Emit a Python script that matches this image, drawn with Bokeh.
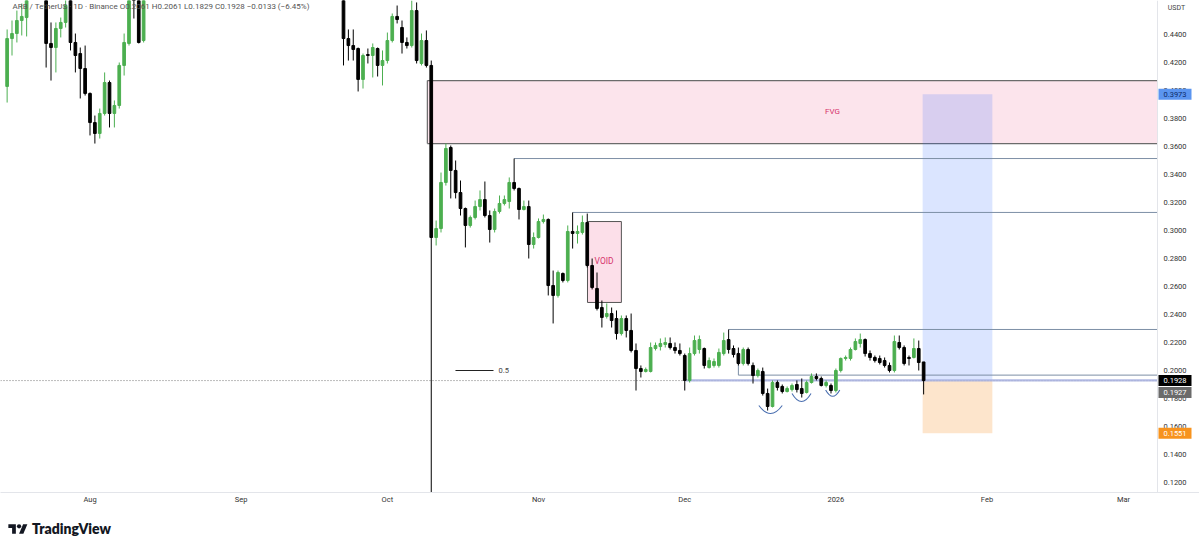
import pandas as pd
from bokeh.plotting import figure
from bokeh.models import Range1d, FixedTicker, Label, Div, ColumnDataSource
from bokeh.layouts import column
from bokeh.embed import file_html
from bokeh.resources import INLINE
from bokeh.core.properties import value

# ---------------- data (ARB / TetherUS, 1D, Binance) ----------------
dates = (list(pd.date_range("2025-07-15", "2025-07-19"))
         + list(pd.date_range("2025-07-23", "2025-08-12"))
         + list(pd.date_range("2025-09-22", "2026-01-19")))

opens = [
    0.4029, 0.4371, 0.4407, 0.4500, 0.4521,
    0.4714, 0.4336, 0.4307, 0.4443, 0.4486, 0.4714, 0.4343, 0.4264, 0.4157, 0.3979,
    0.3771, 0.3693, 0.3836, 0.4057, 0.3836, 0.3893, 0.4179, 0.4336, 0.4786, 0.4750, 0.4357,
    # Sep 22 ->
    0.4714, 0.4371, 0.4321, 0.4300, 0.4079, 0.4257, 0.4250, 0.4300, 0.4179, 0.4214,
    0.4357, 0.4529, 0.4450, 0.4343, 0.4321, 0.4571, 0.4193, 0.4357, 0.4179, 0.2950,
    0.3014, 0.3343, 0.3593, 0.3429, 0.3271, 0.3157, 0.3036, 0.3093, 0.3171, 0.3221,
    0.3107, 0.3007, 0.3136, 0.3193, 0.3207, 0.3343, 0.3300, 0.3150, 0.3171, 0.2900,
    0.2950, 0.3064, 0.3079, 0.2607, 0.2536, 0.2693, 0.2643, 0.2993, 0.2979, 0.2986,
    0.3057, 0.2750, 0.2586, 0.2450, 0.2386, 0.2407, 0.2371, 0.2264, 0.2371, 0.2286,
    0.2143, 0.2014, 0.1993, 0.1993, 0.2157, 0.2171, 0.2186, 0.2193, 0.2164, 0.2143,
    0.2107, 0.1929, 0.2121, 0.2150, 0.2157, 0.2021, 0.2036, 0.2036, 0.2121, 0.2221,
    0.2157, 0.2121, 0.2050, 0.2150, 0.2036, 0.1964, 0.1993, 0.1836, 0.1743, 0.1914,
    0.1886, 0.1850, 0.1864, 0.1900, 0.1871, 0.1843, 0.1914, 0.1957, 0.1943, 0.1893,
    0.1893, 0.1857, 0.2000, 0.2086, 0.2086, 0.2150, 0.2193, 0.2221, 0.2121, 0.2093,
    0.2086, 0.2071, 0.2036, 0.2000, 0.2200, 0.2164, 0.2093, 0.2093, 0.2157, 0.2061,
]
highs = [
    0.4436, 0.4500, 0.4571, 0.4621, 0.4750,
    0.4750, 0.4486, 0.4486, 0.4521, 0.4679, 0.4750, 0.4407, 0.4307, 0.4321, 0.3986,
    0.3821, 0.3871, 0.4129, 0.4071, 0.3929, 0.4200, 0.4407, 0.4750, 0.4857, 0.4786, 0.4786,
    0.4750, 0.4436, 0.4436, 0.4307, 0.4264, 0.4300, 0.4336, 0.4307, 0.4286, 0.4414,
    0.4550, 0.4607, 0.4500, 0.4379, 0.4643, 0.4629, 0.4407, 0.4429, 0.4214, 0.3071,
    0.3414, 0.3621, 0.3607, 0.3500, 0.3357, 0.3164, 0.3107, 0.3214, 0.3286, 0.3350,
    0.3143, 0.3157, 0.3250, 0.3250, 0.3379, 0.3514, 0.3307, 0.3214, 0.3214, 0.2986,
    0.3086, 0.3114, 0.3086, 0.2714, 0.2714, 0.2700, 0.3036, 0.3129, 0.3036, 0.3107,
    0.3121, 0.2800, 0.2700, 0.2500, 0.2479, 0.2450, 0.2429, 0.2393, 0.2393, 0.2407,
    0.2193, 0.2036, 0.2021, 0.2200, 0.2200, 0.2229, 0.2236, 0.2236, 0.2200, 0.2193,
    0.2121, 0.2164, 0.2250, 0.2250, 0.2164, 0.2093, 0.2086, 0.2157, 0.2271, 0.2293,
    0.2179, 0.2164, 0.2164, 0.2164, 0.2057, 0.2014, 0.2021, 0.1871, 0.1929, 0.1929,
    0.1900, 0.1886, 0.1907, 0.1929, 0.1943, 0.1929, 0.1979, 0.1979, 0.1957, 0.1929,
    0.1907, 0.2014, 0.2093, 0.2107, 0.2164, 0.2229, 0.2264, 0.2229, 0.2143, 0.2107,
    0.2107, 0.2093, 0.2057, 0.2250, 0.2250, 0.2179, 0.2107, 0.2229, 0.2214, 0.2061,
]
lows = [
    0.3914, 0.4250, 0.4343, 0.4393, 0.4386,
    0.4164, 0.4071, 0.4129, 0.4379, 0.4450, 0.4286, 0.4129, 0.3943, 0.3964, 0.3679,
    0.3621, 0.3657, 0.3821, 0.3736, 0.3736, 0.3871, 0.4107, 0.4321, 0.4514, 0.4336, 0.4343,
    0.4179, 0.4214, 0.4214, 0.3993, 0.4014, 0.4193, 0.4093, 0.4100, 0.4036, 0.4193,
    0.4343, 0.4479, 0.4264, 0.4300, 0.4307, 0.4193, 0.4179, 0.4164, 0.1000, 0.2893,
    0.2986, 0.3321, 0.3229, 0.3229, 0.3107, 0.2879, 0.3021, 0.3079, 0.3143, 0.3093,
    0.2914, 0.2986, 0.3121, 0.3179, 0.3157, 0.3286, 0.3079, 0.3143, 0.2800, 0.2871,
    0.2943, 0.3050, 0.2536, 0.2336, 0.2521, 0.2629, 0.2629, 0.2871, 0.2907, 0.2971,
    0.2736, 0.2579, 0.2429, 0.2307, 0.2371, 0.2307, 0.2221, 0.2250, 0.2236, 0.2129,
    0.1857, 0.1950, 0.1986, 0.1986, 0.2143, 0.2143, 0.2164, 0.2150, 0.2121, 0.2107,
    0.1857, 0.1914, 0.2107, 0.2121, 0.2014, 0.2014, 0.2021, 0.2021, 0.2107, 0.2121,
    0.2093, 0.2036, 0.2036, 0.2036, 0.1907, 0.1950, 0.1821, 0.1714, 0.1736, 0.1857,
    0.1836, 0.1843, 0.1850, 0.1843, 0.1807, 0.1836, 0.1907, 0.1929, 0.1886, 0.1879,
    0.1836, 0.1843, 0.1986, 0.2071, 0.2071, 0.2143, 0.2164, 0.2100, 0.2071, 0.2057,
    0.2043, 0.2021, 0.1986, 0.1986, 0.2150, 0.2036, 0.2036, 0.2086, 0.2000, 0.1829,
]
closes = [
    0.4371, 0.4407, 0.4500, 0.4529, 0.4714,
    0.4336, 0.4307, 0.4443, 0.4486, 0.4607, 0.4343, 0.4250, 0.4157, 0.3979, 0.3771,
    0.3693, 0.3836, 0.4057, 0.3836, 0.3893, 0.4179, 0.4343, 0.4714, 0.4679, 0.4343, 0.4750,
    0.4371, 0.4321, 0.4293, 0.4079, 0.4250, 0.4250, 0.4307, 0.4179, 0.4214, 0.4357,
    0.4529, 0.4507, 0.4343, 0.4321, 0.4571, 0.4214, 0.4357, 0.4179, 0.2950, 0.3014,
    0.3343, 0.3586, 0.3429, 0.3271, 0.3157, 0.3036, 0.3093, 0.3171, 0.3221, 0.3107,
    0.3007, 0.3136, 0.3193, 0.3221, 0.3343, 0.3300, 0.3150, 0.3171, 0.2900, 0.2950,
    0.3064, 0.3079, 0.2607, 0.2536, 0.2700, 0.2643, 0.2993, 0.2979, 0.2993, 0.3057,
    0.2750, 0.2593, 0.2443, 0.2379, 0.2407, 0.2357, 0.2264, 0.2371, 0.2286, 0.2143,
    0.2014, 0.1993, 0.2007, 0.2164, 0.2179, 0.2193, 0.2200, 0.2164, 0.2143, 0.2121,
    0.1929, 0.2121, 0.2214, 0.2221, 0.2036, 0.2071, 0.2064, 0.2129, 0.2214, 0.2150,
    0.2114, 0.2050, 0.2150, 0.2050, 0.1964, 0.2000, 0.1836, 0.1743, 0.1914, 0.1879,
    0.1850, 0.1871, 0.1893, 0.1864, 0.1836, 0.1914, 0.1957, 0.1943, 0.1893, 0.1914,
    0.1857, 0.2000, 0.2086, 0.2093, 0.2150, 0.2207, 0.2221, 0.2121, 0.2093, 0.2071,
    0.2057, 0.2036, 0.2000, 0.2207, 0.2164, 0.2050, 0.2086, 0.2157, 0.2057, 0.1928,
]

month_ticks = ["2025-08-01", "2025-09-01", "2025-10-01", "2025-11-01",
               "2025-12-01", "2026-01-01", "2026-02-01", "2026-03-01"]
month_labels = ["Aug", "Sep", "Oct", "Nov", "Dec", "2026", "Feb", "Mar"]
price_ticks = [0.12, 0.14, 0.16, 0.18, 0.20, 0.22, 0.24, 0.26, 0.28,
               0.30, 0.32, 0.34, 0.36, 0.38, 0.40, 0.42, 0.44]

last_price = 0.1928
target_price = 0.3973
stop_price = 0.1551
header = ("ARB / TetherUS \u00b7 1D \u00b7 Binance   O0.2061  H0.2061  L0.1829  "
          "C0.1928  \u22120.0133 (\u22126.45%)")

# ---------------- helpers ----------------
ORIGIN = pd.Timestamp("2025-08-01")


def day(d):
    return (pd.Timestamp(d) - ORIGIN).days


x = [day(d) for d in dates]
up = [c >= o for o, c in zip(opens, closes)]

PXD = 4.875            # pixels per day
PXP = 1400.0           # pixels per price unit
X0 = -89.5 / PXD                 # left edge of page
XE = (1157 - 89.5) / PXD         # chart / price-scale separator
X1 = (1199 - 89.5) / PXD         # right edge of page
Y1 = 0.2 + 370 / PXP
Y0 = 0.2 - 122 / PXP

p = figure(frame_width=1199, frame_height=492,
           x_range=Range1d(X0, X1), y_range=Range1d(Y0, Y1),
           y_axis_location=None, output_backend="svg",
           toolbar_location=None, min_border=0, min_border_bottom=18,
           background_fill_color="white", border_fill_color="white")
p.outline_line_color = None
p.grid.visible = False

p.xaxis.ticker = FixedTicker(ticks=[day(t) for t in month_ticks])
p.xaxis.major_label_overrides = {day(t): lab for t, lab in zip(month_ticks, month_labels)}
p.xaxis.major_tick_line_color = None
p.xaxis.major_tick_out = 0
p.xaxis.major_tick_in = 0
p.xaxis.minor_tick_line_color = None
p.xaxis.axis_line_color = "#e3e5ea"
p.xaxis.major_label_text_font = "Roboto"
p.xaxis.major_label_text_font_size = "7.5px"
p.xaxis.major_label_text_color = "#333333"
p.xaxis.major_label_standoff = 2

# ---------------- drawings (under candles) ----------------
fvg_left, fvg_top, fvg_bot = 69.2, 0.4071, 0.3621
p.quad(left=[fvg_left], right=[XE], top=[fvg_top], bottom=[fvg_bot],
       fill_color="#e91e63", fill_alpha=0.12, line_color=None)
p.segment(x0=[fvg_left, fvg_left, fvg_left], y0=[fvg_top, fvg_bot, fvg_bot],
          x1=[XE, XE, fvg_left], y1=[fvg_top, fvg_bot, fvg_top],
          line_color="#6b6b6b", line_width=1.2)

pos_l, pos_r = 170.8, 185.1
p.quad(left=[pos_l], right=[pos_r], top=[target_price], bottom=[last_price],
       fill_color="#2962ff", fill_alpha=0.17, line_color=None)
p.quad(left=[pos_l], right=[pos_r], top=[last_price], bottom=[stop_price],
       fill_color="#f57c00", fill_alpha=0.2, line_color=None)

p.quad(left=[102.05], right=[109.0], top=[0.3064], bottom=[0.2486],
       fill_color="#e91e63", fill_alpha=0.14, line_color="#555555", line_width=1)

lvl_color = "#7d8fa6"
p.segment(x0=[87, 99, 131], y0=[0.3514, 0.3129, 0.2293],
          x1=[XE, XE, XE], y1=[0.3514, 0.3129, 0.2293],
          line_color=lvl_color, line_width=1)
p.line(x=[133.0, 133.0, XE], y=[0.2136, 0.1967, 0.1967],
       line_color=lvl_color, line_width=1)
p.segment(x0=[X0], y0=[last_price], x1=[XE], y1=[last_price],
          line_color="#777777", line_width=1, line_dash="1 2")
p.segment(x0=[122.2], y0=[0.1929], x1=[XE], y1=[0.1929],
          line_color="#aab3e0", line_width=2.2, line_alpha=0.9)

p.segment(x0=[74.97], y0=[0.2000], x1=[82.77], y1=[0.2000],
          line_color="#222222", line_width=1)
p.text(x=[83.8], y=[0.2000], text=["0.5"], text_font=value("Roboto"),
       text_font_size="7.5px", text_color="#444444", text_baseline="middle")

p.quadratic(x0=[137.2, 144.0, 150.9], y0=[0.1750, 0.1836, 0.1861],
            x1=[142.0, 147.9, 153.8], y1=[0.1750, 0.1836, 0.1861],
            cx=[139.6, 145.95, 152.35], cy=[0.1636, 0.1721, 0.1771],
            line_color="#4a6fb0", line_width=1.1)

# ---------------- candles ----------------
green, black = "#4caf50", "#000000"
src = ColumnDataSource(dict(
    x=x, o=opens, h=highs, l=lows, c=closes,
    top=[max(o, c) for o, c in zip(opens, closes)],
    bot=[min(o, c) for o, c in zip(opens, closes)],
    col=[green if u else black for u in up],
))
p.segment(x0="x", y0="l", x1="x", y1="h", line_color="col", line_width=1, source=src)
p.vbar(x="x", width=0.55, top="top", bottom="bot", fill_color="col",
       line_color="col", line_width=1, source=src)

p.text(x=[152.3], y=[0.3850], text=["FVG"], text_font=value("Roboto"),
       text_font_size="8px", text_color="#d6336c", text_align="center",
       text_baseline="middle")
p.text(x=[103.5], y=[0.2779], text=["VOID"], text_font=value("Roboto"),
       text_font_size="8.5px", text_color="#d6336c", text_baseline="middle")

p.add_layout(Label(x=X0, x_offset=12, y=Y1, y_offset=-1, text=header,
                   text_font="Roboto", text_font_size="8px", text_color="#555555",
                   text_baseline="top"))

# ---------------- price scale (drawn inside the canvas) ----------------
p.quad(left=[XE], right=[X1], top=[Y1], bottom=[Y0], fill_color="white", line_color=None)
p.segment(x0=[XE], y0=[Y0], x1=[XE], y1=[Y1], line_color="#e3e5ea", line_width=1)
lab_x = XE + 6 / PXD
p.text(x=[lab_x] * len(price_ticks), y=price_ticks,
       text=[f"{t:.4f}" for t in price_ticks], text_font=value("Roboto"),
       text_font_size="7.5px", text_color="#333333", text_baseline="middle")
p.text(x=[XE + 19 / PXD], y=[Y1 - 7 / PXP], text=["USDT"], text_font=value("Roboto"),
       text_font_size="7px", text_color="#444444", text_align="center",
       text_baseline="middle")

tag_y = [target_price, last_price, 0.1843, stop_price]
tag_txt = ["0.3973", "0.1928", "0.1927", "0.1551"]
tag_bg = ["#5b95f0", "#000000", "#6b6b6b", "#f7931e"]
tag_fg = ["#0d2a66", "#ffffff", "#ffffff", "#ffffff"]
tag_cx = XE + 17.5 / PXD
p.rect(x=[tag_cx] * 4, y=tag_y, width=33 / PXD, height=11 / PXP,
       fill_color=tag_bg, line_color=None)
p.text(x=[tag_cx] * 4, y=tag_y, text=tag_txt, text_font=value("Roboto"),
       text_font_size="7.5px", text_color=tag_fg, text_align="center",
       text_baseline="middle")

logo = Div(text=(
    '<div style="display:flex;align-items:center;gap:4px;font-family:Lato,Inter,sans-serif;'
    'font-weight:800;font-size:14px;line-height:16px;color:#131722;">'
    '<svg width="20" height="15" viewBox="0 0 36 28">'
    '<path fill="#131722" d="M14 22H7V11H0V4h14v18z"/>'
    '<circle fill="#131722" cx="20" cy="8" r="4"/>'
    '<path fill="#131722" d="M28 22h-8l7.5-18h8L28 22z"/></svg>'
    '<span>TradingView</span></div>'),
    width=200, height=18, margin=(11, 0, 0, 8))

layout = column(p, logo, spacing=0)
open("out.html", "w").write(file_html(layout, INLINE))
